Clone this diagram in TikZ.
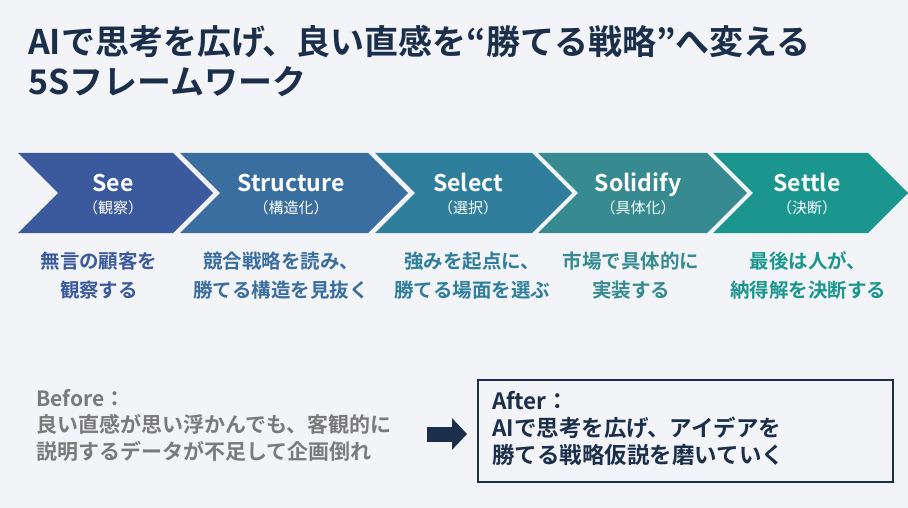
\documentclass[tikz,border=0pt]{standalone}
\usepackage{fontspec}
\setmainfont{Noto Sans CJK JP}[BoldFont={Noto Sans CJK JP Bold}]
\usetikzlibrary{arrows.meta}
\definecolor{bgc}{HTML}{F3F4F8}
\definecolor{cA}{HTML}{3B5A9D}
\definecolor{cB}{HTML}{3A6E9E}
\definecolor{cC}{HTML}{2F7E9B}
\definecolor{cD}{HTML}{368A90}
\definecolor{cE}{HTML}{1B968F}
\definecolor{navy}{HTML}{1B2F4A}
\definecolor{greytxt}{HTML}{7A7A7A}
\begin{document}
\begin{tikzpicture}[x=1pt,y=-1pt,
  lab/.style={text=white,font=\bfseries\fontsize{23}{26}\selectfont,inner sep=0pt,anchor=base},
  sublab/.style={text=white,font=\fontsize{15}{18}\selectfont,inner sep=0pt,anchor=base},
  desc/.style={text=#1,font=\bfseries\fontsize{19.5}{29}\selectfont,align=center,inner sep=0pt,anchor=base},
  titletxt/.style={text=navy,font=\bfseries\fontsize{34}{40}\selectfont,align=left,inner sep=0pt,anchor=base west},
  bottomtxt/.style={text=#1,font=\bfseries\fontsize{21}{26.5}\selectfont,align=left,inner sep=0pt,anchor=base west},
]
\useasboundingbox (0,0) rectangle (908,508);
\fill[bgc] (0,0) rectangle (908,508);
% title (base anchor = baseline of last line)
\node[titletxt] (title) at (28,95) {AIで思考を広げ、良い直感を“勝てる戦略”へ変える\\5Sフレームワーク};
% chevrons
\foreach \l/\r/\c in {18/173/cA,180/368/cB,375/532/cC,538/707/cD,713/868/cE}{
  \fill[\c] (\l,153) -- (\r,153) -- (\r+40,193) -- (\r,233) -- (\l,233) -- (\l+40,193) -- cycle;
}
\node[lab] (l1) at (113,192) {See};
\node[sublab] (s1) at (113,214) {（観察）};
\node[lab] (l2) at (291,192) {Structure};
\node[sublab] (s2) at (291,214) {（構造化）};
\node[lab] (l3) at (468,192) {Select};
\node[sublab] (s3) at (468,214) {（選択）};
\node[lab] (l4) at (638,192) {Solidify};
\node[sublab] (s4) at (638,214) {（具体化）};
\node[lab] (l5) at (807,192) {Settle};
\node[sublab] (s5) at (807,214) {（決断）};
% descriptions
\node[desc=cA] (d1) at (99,297) {無言の顧客を\\観察する};
\node[desc=cB] (d2) at (281,297) {競合戦略を読み、\\勝てる構造を見抜く};
\node[desc=cC] (d3) at (472,297) {強みを起点に、\\勝てる場面を選ぶ};
\node[desc=cD] (d4) at (631,297) {市場で具体的に\\実装する};
\node[desc=cE] (d5) at (808,297) {最後は人が、\\納得解を決断する};
% before / after
\node[bottomtxt=greytxt] (before) at (36,459) {Before：\\良い直感が思い浮かんでも、客観的に\\説明するデータが不足して企画倒れ};
\node[draw=navy,line width=1.5pt,minimum width=415pt,minimum height=102pt,anchor=north west,inner sep=0pt] (after) at (477,379) {};
\node[bottomtxt=navy,font=\bfseries\fontsize{22.5}{27}\selectfont] (aftertxt) at (492,463) {After：\\AIで思考を広げ、アイデアを\\勝てる戦略仮説を磨いていく};
\coordinate (aS) at (427,434);
\coordinate (aE) at (467,434);
\draw[navy,line width=15pt,-{Triangle[length=15pt,width=31pt]}] (aS) -- (aE);
\end{tikzpicture}
\end{document}
